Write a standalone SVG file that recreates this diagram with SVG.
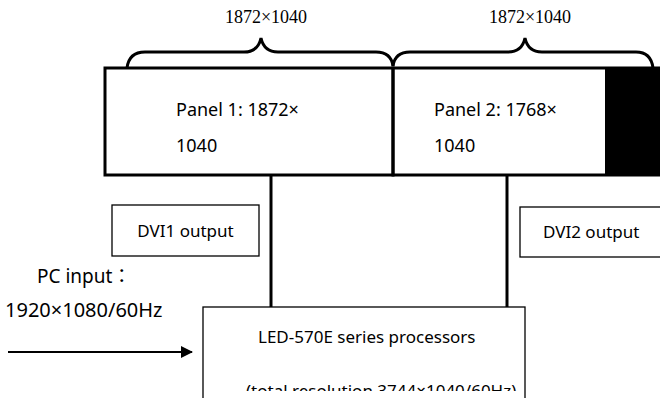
<svg xmlns="http://www.w3.org/2000/svg" width="660" height="398" viewBox="0 0 660 398">
<style>
.thick{fill:none;stroke:#000;stroke-width:3}
.thin{fill:#fff;stroke:#000;stroke-width:1.3}
.t{font-family:"Noto Sans","Noto Sans CJK TC","Open Sans",sans-serif;fill:#000}
.s{font-family:"Liberation Serif",serif;fill:#000}
</style>
<defs>
<marker id="ah" markerWidth="12" markerHeight="12" refX="11" refY="6" orient="auto" markerUnits="userSpaceOnUse">
<path d="M0,0 L12,6 L0,12 z" fill="#000"/>
</marker>
<clipPath id="pc"><rect x="203" y="307" width="322" height="84"/></clipPath>
</defs>
<rect width="660" height="398" fill="#fff"/>
<g id="label1"><text class="s" x="266" y="23" font-size="18" text-anchor="middle">1872×1040</text></g>
<g id="label2"><text class="s" x="530" y="23" font-size="18" text-anchor="middle">1872×1040</text></g>
<g id="brace1"><path class="thick" d="M127,68 Q129,52 145,52 L244,52 Q258,52 261,38 Q264,52 278,52 L376,52 Q391,52 393,66"/></g>
<g id="brace2"><path class="thick" d="M393,66 Q395,52 410,52 L508,52 Q522,52 525,38 Q528,52 542,52 L636,52 Q651,52 653,68"/></g>
<g id="panel1"><rect class="thick" x="105" y="68" width="288" height="107"/>
<text class="t" x="176" y="116" font-size="18">Panel 1: 1872×</text>
<text class="t" x="176" y="152" font-size="18">1040</text></g>
<g id="panel2"><rect x="605" y="68" width="60" height="107" fill="#000"/>
<rect class="thick" x="393" y="68" width="272" height="107"/>
<text class="t" x="434" y="116" font-size="18">Panel 2: 1768×</text>
<text class="t" x="434" y="152" font-size="18">1040</text></g>
<g id="connectors">
<line class="thick" x1="271" y1="175" x2="271" y2="307"/>
<line class="thick" x1="507" y1="175" x2="507" y2="307"/>
<line stroke="#000" stroke-width="2" x1="8" y1="352" x2="192" y2="352" marker-end="url(#ah)"/>
</g>
<g id="dvi1"><rect class="thin" x="112" y="205" width="147" height="51"/>
<text class="t" x="185.5" y="237" font-size="17" text-anchor="middle">DVI1 output</text></g>
<g id="dvi2"><rect class="thin" x="520" y="207" width="150" height="50"/>
<text class="t" x="543" y="238" font-size="17">DVI2 output</text></g>
<g id="pcinput"><text class="t" x="37" y="283" font-size="19">PC input：</text>
<text class="t" x="5" y="317" font-size="20">1920×1080/60Hz</text></g>
<g id="processor"><rect x="203" y="307" width="322" height="100" fill="#fff" stroke="#000" stroke-width="1.3"/>
<text class="t" x="258" y="343" font-size="17">LED-570E series processors</text>
<text class="t" x="246" y="397" font-size="17" clip-path="url(#pc)">(total resolution 3744×1040/60Hz)</text></g>
</svg>
